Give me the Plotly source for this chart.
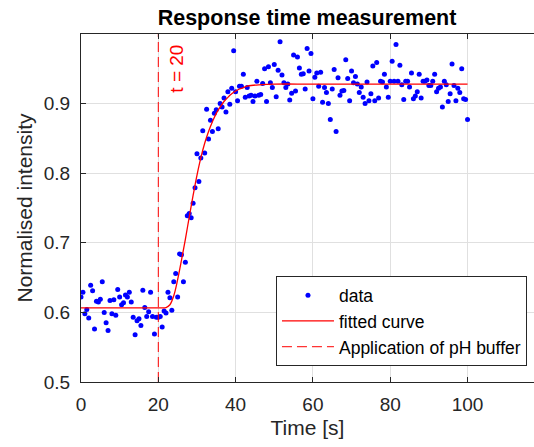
import numpy as np
import plotly.graph_objects as go

# ---- data ----
time_s = np.arange(0, 100.5, 0.5)
intensity = [
    0.622, 0.629, 0.598, 0.604, 0.592, 0.639, 0.631, 0.576, 0.616, 0.615, 0.619, 0.644, 0.600, 0.585, 0.574, 0.617, 0.598, 0.618, 0.596, 0.633,
    0.622, 0.611, 0.614, 0.625, 0.622, 0.629, 0.615, 0.593, 0.568, 0.588, 0.591, 0.581, 0.632, 0.607, 0.594, 0.601, 0.629, 0.594, 0.569, 0.593,
    0.593, 0.594, 0.579, 0.602, 0.599, 0.629, 0.621, 0.603, 0.644, 0.656, 0.622, 0.684, 0.683, 0.644, 0.672, 0.739, 0.742, 0.736, 0.757, 0.779,
    0.828, 0.788, 0.822, 0.861, 0.829, 0.892, 0.849, 0.876, 0.860, 0.886, 0.891, 0.864, 0.900, 0.895, 0.908, 0.888, 0.917, 0.899, 0.922, 0.976,
    0.917, 0.904, 0.925, 0.925, 0.942, 0.909, 0.923, 0.911, 0.912, 0.903, 0.911, 0.932, 0.912, 0.913, 0.929, 0.950, 0.903, 0.953, 0.930, 0.923,
    0.956, 0.910, 0.948, 0.989, 0.941, 0.930, 0.923, 0.928, 0.905, 0.915, 0.970, 0.918, 0.967, 0.951, 0.942, 0.943, 0.921, 0.979, 0.947, 0.972,
    0.907, 0.938, 0.944, 0.925, 0.945, 0.902, 0.923, 0.916, 0.900, 0.877, 0.921, 0.949, 0.860, 0.937, 0.912, 0.918, 0.919, 0.963, 0.936, 0.904,
    0.947, 0.930, 0.939, 0.928, 0.916, 0.924, 0.909, 0.900, 0.931, 0.904, 0.914, 0.954, 0.904, 0.959, 0.908, 0.932, 0.931, 0.942, 0.924, 0.909,
    0.932, 0.961, 0.932, 0.985, 0.932, 0.955, 0.927, 0.906, 0.932, 0.932, 0.924, 0.944, 0.907, 0.911, 0.917, 0.942, 0.908, 0.932, 0.932, 0.934,
    0.926, 0.926, 0.932, 0.942, 0.917, 0.922, 0.924, 0.895, 0.932, 0.927, 0.903, 0.914, 0.957, 0.926, 0.904, 0.922, 0.916, 0.950, 0.907, 0.906,
    0.877,
]

fit_t = [0, 10, 20, 22, 23, 24, 25, 26, 27, 28, 29, 30, 31, 32, 33, 34, 35, 36, 37, 38, 39,
         40, 41, 42, 43, 44, 46, 50, 60, 80, 100]
fit_y = [0.6065, 0.6065, 0.6065, 0.607, 0.611, 0.624, 0.647, 0.675, 0.705, 0.737, 0.768, 0.797,
         0.822, 0.843, 0.860, 0.874, 0.886, 0.895, 0.903, 0.909, 0.914,
         0.918, 0.921, 0.923, 0.925, 0.926, 0.927, 0.928, 0.928, 0.928, 0.928]

buffer_t = 20
y_limits = [0.5, 1.0]
x_limits = [0, 117.2]
x_ticks = [0, 20, 40, 60, 80, 100]
y_ticks = [0.5, 0.6, 0.7, 0.8, 0.9]

FONT = "Liberation Sans, Arial, sans-serif"
AX = "#262626"

fig = go.Figure()
fig.add_trace(go.Scatter(x=time_s, y=intensity, mode="markers", name="data",
                         marker=dict(color="#0000FF", size=5)))
fig.add_trace(go.Scatter(x=fit_t, y=fit_y, mode="lines", name="fitted curve",
                         line=dict(color="#FF0000", width=1.3, shape="spline")))
fig.add_trace(go.Scatter(x=[buffer_t, buffer_t], y=y_limits, mode="lines",
                         name="Application of pH buffer",
                         line=dict(color="#FF0000", width=1, dash="10px,5px")))

fig.add_annotation(x=buffer_t + 4.8, y=0.95, xref="x", yref="y", text="t = 20",
                   textangle=-90, showarrow=False,
                   font=dict(family=FONT, size=19, color="#FF0000"))

fig.update_layout(
    width=534, height=447,
    margin=dict(l=81, r=0, t=34, b=65),
    paper_bgcolor="white", plot_bgcolor="white",
    font=dict(family=FONT, color=AX),
    title=dict(text="<b>Response time measurement</b>", x=0.575, xanchor="center",
               y=1 - 17 / 447, yanchor="middle",
               font=dict(family=FONT, size=21.5, color="black")),
    legend=dict(x=0.9845, y=0.045, xanchor="right", yanchor="bottom",
                bgcolor="white", bordercolor=AX, borderwidth=1,
                font=dict(family=FONT, size=17.5, color="black"),
                itemwidth=52, tracegroupgap=0),
    showlegend=True,
)
fig.update_xaxes(range=x_limits, tickvals=x_ticks, ticks="inside", ticklen=5,
                 tickcolor=AX, showline=True, linecolor=AX, linewidth=1,
                 mirror="ticks", showgrid=True, gridcolor="#e0e0e0", zeroline=False,
                 tickfont=dict(family=FONT, size=19, color=AX),
                 ticklabelstandoff=5,
                 title=dict(text="Time [s]", font=dict(family=FONT, size=21, color=AX),
                            standoff=6))
fig.update_yaxes(range=y_limits, tickvals=y_ticks, tickformat=".1f", ticks="inside",
                 ticklen=5, tickcolor=AX, showline=True, linecolor=AX, linewidth=1,
                 mirror=False, showgrid=True, gridcolor="#e0e0e0", zeroline=False,
                 tickfont=dict(family=FONT, size=19, color=AX),
                 ticklabelstandoff=6,
                 title=dict(text="Normalised intensity",
                            font=dict(family=FONT, size=21, color=AX), standoff=5))

fig.write_html("out.html")
